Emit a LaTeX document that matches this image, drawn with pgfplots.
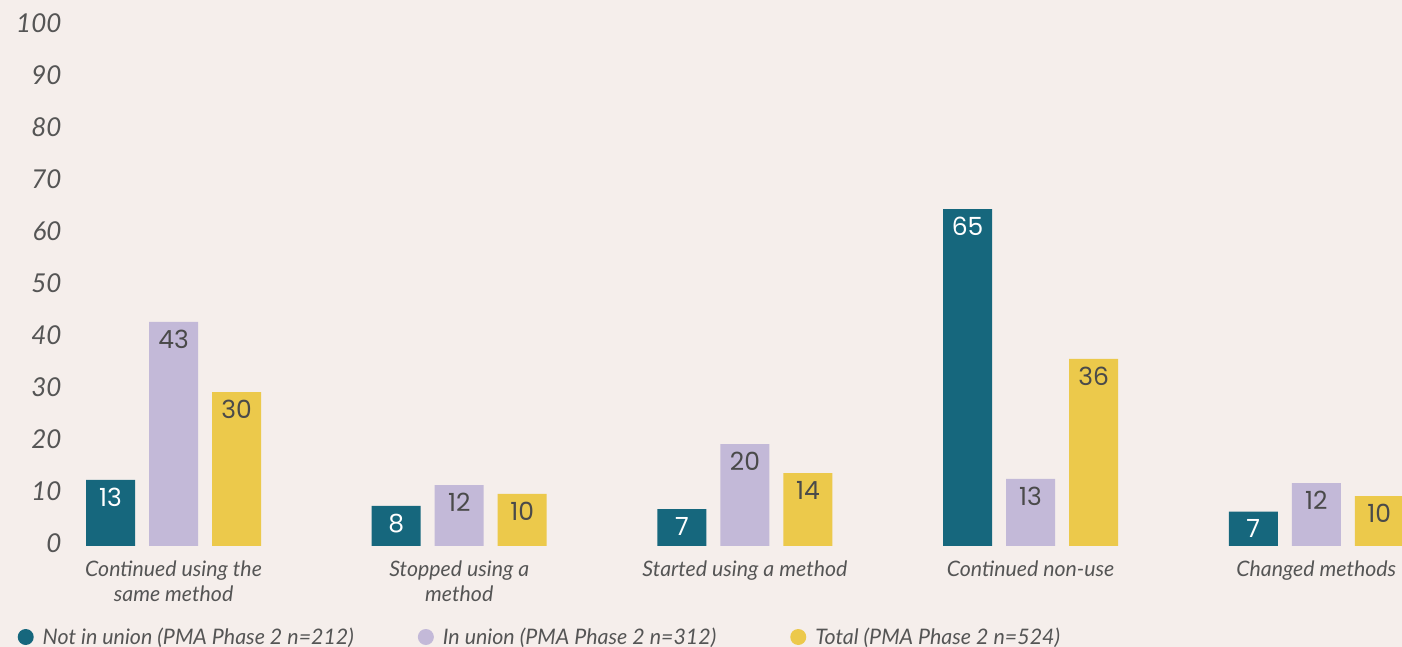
\documentclass[border=0pt]{standalone}
\usepackage{pgfplots}
\pgfplotsset{compat=1.18}
\usepackage{fontspec}
\setmainfont{Lato}
\newfontfamily\valfont{Poppins}
\definecolor{bg}{HTML}{F5EEEB}
\definecolor{teal}{HTML}{16677D}
\definecolor{lav}{HTML}{C3B9D8}
\definecolor{yel}{HTML}{ECC94B}
\definecolor{txt}{HTML}{555555}
\definecolor{valtxt}{HTML}{4A4A4A}
\begin{document}
\begin{tikzpicture}
\fill[bg] (0,0) rectangle (1402pt,647pt);
\begin{axis}[
  at={(65pt,101pt)}, anchor=south west,
  scale only axis, width=1337pt, height=520pt,
  xmin=-0.38, xmax=4.30, ymin=0, ymax=100,
  clip=true,
  axis line style={draw=none},
  tick style={draw=none},
  major tick length=0pt,
  ytick={0,10,...,100},
  xtick={0,1,2,3,4},
  xticklabels={{Continued using the\\same method},{Stopped using a\\method},{Started using a method},{Continued non-use},{Changed methods}},
  xticklabel style={align=center, font=\fontsize{21.3}{25}\selectfont\itshape, text=txt, anchor=north, yshift=-11pt},
  yticklabel style={font=\fontsize{26}{30}\selectfont\itshape, text=txt, anchor=east, xshift=0pt, yshift=3pt},
  /pgf/number format/assume math mode=true,
  bar width=0.1715,
  nodes near coords={\pgfmathprintnumber[fixed,precision=0]{\pgfplotspointmeta}},
  every node near coord/.append style={anchor=north, yshift=-4.5pt, font=\fontsize{25}{28}\selectfont\valfont},
  legend columns=3,
  legend style={at={(-0.0355,-0.175)}, anchor=west, draw=none, fill=none, inner sep=0pt,
    font=\fontsize{21.4}{25}\selectfont\itshape, text=txt,
    /tikz/column 2/.style={column sep=62pt},
    /tikz/column 4/.style={column sep=72pt}},
  legend image code/.code={\fill[#1] (0pt,0pt) circle (8pt); \path (15pt,0pt);},
]
\addplot[ybar, bar shift=0, fill=teal, draw=none, every node near coord/.append style={text=white}]
  coordinates {(-0.2205,12.7) (0.7795,7.7) (1.7795,7.1) (2.7795,64.8) (3.7795,6.6)};
\addplot[ybar, bar shift=0, fill=lav, draw=none, every node near coord/.append style={text=valtxt}]
  coordinates {(0,43.1) (1,11.7) (2,19.6) (3,12.9) (4,12.1)};
\addplot[ybar, bar shift=0, fill=yel, draw=none, every node near coord/.append style={text=valtxt}]
  coordinates {(0.2205,29.6) (1.2205,10.0) (2.2205,14.0) (3.2205,36.0) (4.2205,9.6)};
\legend{Not in union (PMA Phase 2 n=212),In union (PMA Phase 2 n=312),Total (PMA Phase 2 n=524)}
\end{axis}
\pgfresetboundingbox
\path[use as bounding box] (0,0) rectangle (1402pt,647pt);
\end{tikzpicture}
\end{document}
